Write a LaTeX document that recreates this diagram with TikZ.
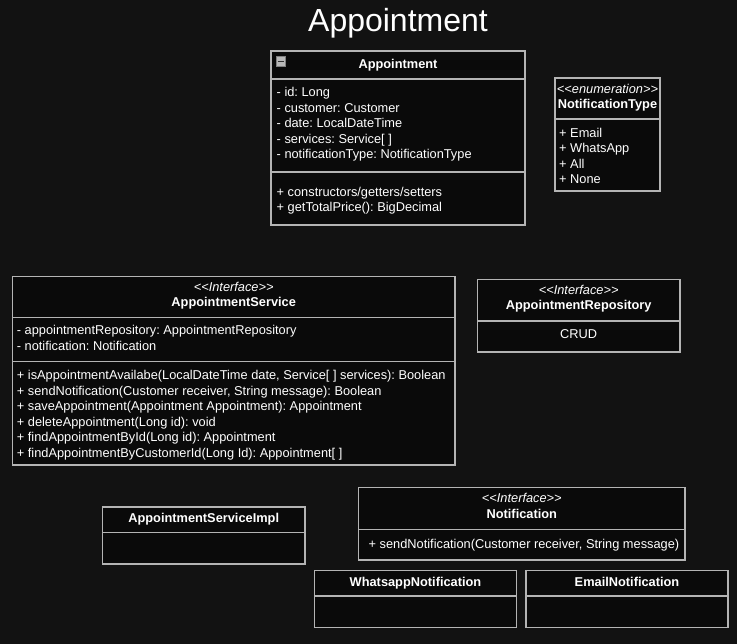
\documentclass[tikz,border=0pt]{standalone}
\usepackage{fontspec}
\setmainfont{Liberation Sans}
\usetikzlibrary{fit}
\frenchspacing
\definecolor{bgcol}{HTML}{121212}
\definecolor{boxfill}{HTML}{0A0A0A}
\definecolor{boxline}{HTML}{B4B4B4}
\definecolor{iconfill}{HTML}{B8B8B8}
\newcommand{\ltlt}{<\kern0pt<}
\newcommand{\gtgt}{>\kern0pt>}
\begin{document}
\begin{tikzpicture}[x=1pt,y=-1pt,
  classbox/.style={draw=boxline, fill=boxfill, line width=1.3pt, inner sep=0pt},
  divider/.style={draw=boxline, line width=1.3pt},
  lefttxt/.style={anchor=base west, inner sep=0pt, text=white, font=\fontsize{12.8}{15}\selectfont},
  centtxt/.style={anchor=base, inner sep=0pt, text=white, font=\fontsize{12.8}{15}\selectfont},
  clsname/.style={anchor=base, inner sep=0pt, text=white, font=\fontsize{12.8}{15}\selectfont\bfseries},
  stereo/.style={anchor=base, inner sep=0pt, text=white, font=\fontsize{12.8}{15}\selectfont\itshape}]
\fill[bgcol] (0,0) rectangle (737,644);
\useasboundingbox (0,0) rectangle (737,644);

% title
\node[anchor=base, inner sep=0pt, text=white, font=\fontsize{32}{36}\selectfont] (title) at (398,32) {Appointment};

% Appointment class
\node[classbox, fit={(271,51) (525,225)}] (appt) {};
\draw[divider] (271,79) -- (525,79);
\draw[divider] (271,172) -- (525,172);
\node[draw=gray, fill=iconfill, line width=0.6pt, minimum width=9.5pt, minimum height=9.5pt, inner sep=0pt] (apptIcon) at (280.7,61.5) {};
\draw[black!80, line width=1.5pt] (277.8,61.5) -- (283.6,61.5);
\node[clsname] (apptName) at (398,69) {Appointment};
\node[lefttxt] (apptA1) at (276.5,97) {- id: Long};
\node[lefttxt] (apptA2) at (276.5,112.5) {- customer: Customer};
\node[lefttxt] (apptA3) at (276.5,128) {- date: LocalDateTime};
\node[lefttxt] (apptA4) at (276.5,143.5) {- services: Service[ ]};
\node[lefttxt] (apptA5) at (276.5,159) {- notificationType: NotificationType};
\node[lefttxt] (apptM1) at (276.5,196.5) {+ constructors/getters/setters};
\node[lefttxt] (apptM2) at (276.5,212) {+ getTotalPrice(): BigDecimal};

% NotificationType enum
\node[classbox, fit={(555,78) (660,191)}] (ntype) {};
\draw[divider] (555,119) -- (660,119);
\node[stereo] (ntypeSt) at (607.5,93.3) {\ltlt enumeration\gtgt};
\node[clsname] (ntypeName) at (607.5,108.3) {NotificationType};
\node[lefttxt] (ntype1) at (559,137.3) {+ Email};
\node[lefttxt] (ntype2) at (559,152.7) {+ WhatsApp};
\node[lefttxt] (ntype3) at (559,168.3) {+ All};
\node[lefttxt] (ntype4) at (559,183.3) {+ None};

% AppointmentService interface
\node[classbox, fit={(12.5,276.5) (455,465)}] (svc) {};
\draw[divider] (12.5,317.5) -- (455,317.5);
\draw[divider] (12.5,361.5) -- (455,361.5);
\node[stereo] (svcSt) at (233.7,291.7) {\ltlt Interface\gtgt};
\node[clsname] (svcName) at (233.7,306.7) {AppointmentService};
\node[lefttxt] (svcA1) at (16.7,335) {- appointmentRepository: AppointmentRepository};
\node[lefttxt] (svcA2) at (16.7,350.5) {- notification: Notification};
\node[lefttxt] (svcM1) at (16.7,380) {+ isAppointmentAvailabe(LocalDateTime date, Service[ ] services): Boolean};
\node[lefttxt] (svcM2) at (16.7,395.5) {+ sendNotification(Customer receiver, String message): Boolean};
\node[lefttxt] (svcM3) at (16.7,411) {+ saveAppointment(Appointment Appointment): Appointment};
\node[lefttxt] (svcM4) at (16.7,426.3) {+ deleteAppointment(Long id): void};
\node[lefttxt] (svcM5) at (16.7,441.7) {+ findAppointmentById(Long id): Appointment};
\node[lefttxt] (svcM6) at (16.7,457) {+ findAppointmentByCustomerId(Long Id): Appointment[ ]};

% AppointmentRepository interface
\node[classbox, fit={(477.5,279.5) (680,352)}] (repo) {};
\draw[divider] (477.5,321) -- (680,321);
\node[stereo] (repoSt) at (578.7,295) {\ltlt Interface\gtgt};
\node[clsname] (repoName) at (578.7,309.5) {AppointmentRepository};
\node[centtxt] (repoCrud) at (578.7,338.5) {CRUD};

% AppointmentServiceImpl
\node[classbox, fit={(102.5,507) (305,564)}] (impl) {};
\draw[divider] (102.5,532.5) -- (305,532.5);
\node[clsname] (implName) at (203.7,522.7) {AppointmentServiceImpl};

% Notification interface
\node[classbox, fit={(358.7,487.5) (685,560)}] (notif) {};
\draw[divider] (358.7,529.5) -- (685,529.5);
\node[stereo] (notifSt) at (521.8,502.7) {\ltlt Interface\gtgt};
\node[clsname] (notifName) at (521.8,518.3) {Notification};
\node[lefttxt] (notifM1) at (368.5,548.3) {+ sendNotification(Customer receiver, String message)};

% WhatsappNotification
\node[classbox, fit={(314.5,570.5) (516.5,627.5)}] (wa) {};
\draw[divider] (314.5,596) -- (516.5,596);
\node[clsname] (waName) at (415.5,586.7) {WhatsappNotification};

% EmailNotification
\node[classbox, fit={(526,570.5) (728,627.5)}] (email) {};
\draw[divider] (526,596) -- (728,596);
\node[clsname] (emailName) at (627,586.7) {EmailNotification};
\end{tikzpicture}
\end{document}
